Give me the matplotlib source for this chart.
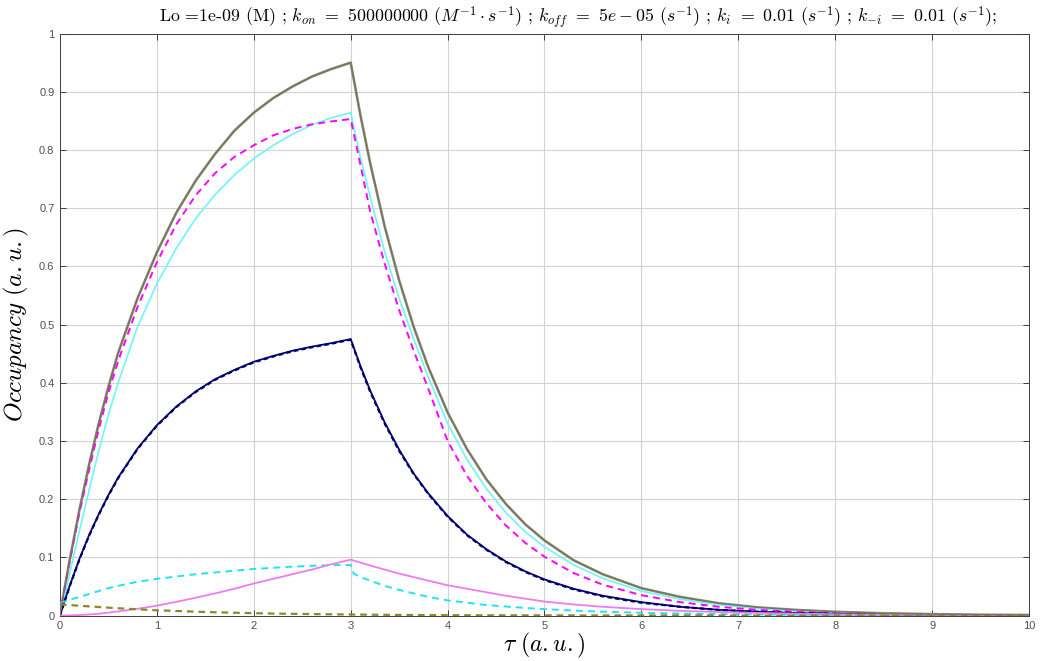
import numpy as np
import matplotlib
matplotlib.use("Agg")
import matplotlib.pyplot as plt
from matplotlib.ticker import FuncFormatter

# ── data ──────────────────────────────────────────────────
T_RISE = [0, 0.05, 0.1, 0.2, 0.3, 0.4, 0.5, 0.6, 0.8, 1.0, 1.2, 1.4, 1.6, 1.8, 2.0,
          2.2, 2.4, 2.6, 2.8, 3.0]
T_DECAY = [3.1, 3.2, 3.35, 3.5, 3.65, 3.8, 4.0, 4.2, 4.4, 4.6, 4.8, 5.0,
           5.3, 5.6, 6.0, 6.4, 6.8, 7.2, 7.6, 8, 8.5, 9, 9.5, 10]
T = T_RISE + T_DECAY

total = [0, 0.049, 0.095, 0.181, 0.259, 0.330, 0.393, 0.451, 0.545, 0.624, 0.692, 0.747, 0.793, 0.833, 0.864,
         0.889, 0.909, 0.926, 0.939, 0.950,
         0.860, 0.778, 0.669, 0.576, 0.496, 0.427, 0.349, 0.286, 0.234, 0.192, 0.157, 0.129,
         0.095, 0.071, 0.047, 0.032, 0.021, 0.014, 0.0096, 0.0064, 0.0039, 0.0024, 0.0014, 0.0009]

cyan_solid = [0, 0.035, 0.072, 0.145, 0.215, 0.283, 0.345, 0.40, 0.496, 0.570, 0.631, 0.682, 0.723, 0.757, 0.785,
              0.808, 0.827, 0.843, 0.855, 0.864,
              0.788, 0.72, 0.625, 0.545, 0.475, 0.41, 0.33, 0.268, 0.218, 0.177, 0.144, 0.118,
              0.087, 0.064, 0.042, 0.028, 0.0185, 0.0122, 0.008, 0.0055, 0.0033, 0.002, 0.0012, 0.0007]

magenta_dash = [0, 0.048, 0.093, 0.176, 0.25, 0.32, 0.383, 0.437, 0.53, 0.607, 0.672, 0.722, 0.76, 0.788, 0.808,
                0.825, 0.836, 0.844, 0.849, 0.853,
                0.775, 0.695, 0.605, 0.525, 0.455, 0.39, 0.30, 0.24, 0.193, 0.155, 0.125, 0.101,
                0.073, 0.053, 0.035, 0.023, 0.015, 0.0097, 0.0063, 0.004, 0.0025, 0.0015, 0.0009, 0.0005]

navy_solid = [0, 0.026, 0.051, 0.097, 0.138, 0.174, 0.207, 0.237, 0.287, 0.327, 0.359, 0.385, 0.406, 0.422, 0.436,
              0.446, 0.455, 0.462, 0.468, 0.475,
              0.429, 0.387, 0.332, 0.285, 0.244, 0.210, 0.171, 0.139, 0.114, 0.093, 0.076, 0.062,
              0.046, 0.034, 0.023, 0.015, 0.0098, 0.0065, 0.0043, 0.0029, 0.0017, 0.001, 0.0006, 0.0004]

navy_dash = [0, 0.025, 0.050, 0.096, 0.137, 0.173, 0.206, 0.236, 0.286, 0.326, 0.358, 0.384, 0.405, 0.421, 0.435,
             0.445, 0.454, 0.461, 0.467, 0.474,
             0.427, 0.385, 0.330, 0.283, 0.243, 0.209, 0.170, 0.138, 0.113, 0.092, 0.075, 0.061,
             0.045, 0.033, 0.022, 0.015, 0.0096, 0.0064, 0.0042, 0.0028, 0.0017, 0.001, 0.0006, 0.0004]

pink_solid = [0, 0, 0.0002, 0.0008, 0.0018, 0.003, 0.005, 0.007, 0.0115, 0.017, 0.0235, 0.0305, 0.038, 0.046, 0.055,
              0.063, 0.071, 0.079, 0.088, 0.096,
              0.091, 0.086, 0.079, 0.072, 0.066, 0.060, 0.052, 0.046, 0.040, 0.034, 0.029, 0.024,
              0.019, 0.015, 0.011, 0.008, 0.006, 0.0045, 0.0033, 0.0022, 0.0015, 0.001, 0.0006, 0.0004]

olive_dash = [0.019, 0.0185, 0.018, 0.0168, 0.0157, 0.0146, 0.0135, 0.0125, 0.0107, 0.009, 0.0078, 0.0066, 0.0056,
              0.0048, 0.004, 0.0034, 0.0029, 0.0025, 0.0021, 0.0018,
              0.0016, 0.0014, 0.0012, 0.001, 0.0009, 0.0008, 0.0006, 0.0005, 0.0004, 0.0003, 0.0003, 0.0002,
              0.0002, 0.0001, 0.0001, 0.0001, 0, 0, 0, 0, 0, 0, 0, 0]

# cyan dashed drops sharply right after the pulse ends
T_CD = T_RISE + [3.03] + T_DECAY
cyan_dash = [0.022, 0.024, 0.027, 0.032, 0.037, 0.042, 0.047, 0.051, 0.058, 0.063, 0.067, 0.071, 0.074, 0.077, 0.080,
             0.082, 0.084, 0.0855, 0.0865, 0.087,
             0.072,
             0.066, 0.06, 0.051, 0.044, 0.038, 0.032, 0.026, 0.022, 0.018, 0.0155, 0.013, 0.011,
             0.0085, 0.0066, 0.0047, 0.0034, 0.0024, 0.0017, 0.0012, 0.0008, 0.0005, 0.0003, 0.0002, 0.0001]

X_TICKS = list(range(0, 11))
Y_TICKS = [0, 0.1, 0.2, 0.3, 0.4, 0.5, 0.6, 0.7, 0.8, 0.9, 1]

TITLE = (r"Lo =1e-09 (M) ; $k_{on}$ $=$ 500000000 $(M^{-1}\cdot s^{-1})$ ; "
         r"$k_{off}$ $=$ $5e-05$ $(s^{-1})$ ; $k_i$ $=$ $\mathbf{0.01}$ $(s^{-1})$ ; "
         r"$k_{-i}$ $=$ $\mathbf{0.01}$ $(s^{-1})$;")
# ──────────────────────────────────────────────────────────

plt.rcParams['mathtext.fontset'] = 'cm'
plt.rcParams['axes.formatter.use_mathtext'] = True

fig = plt.figure(figsize=(10.43, 6.61), dpi=100)
ax = fig.add_axes([0.0575, 0.0688, 0.9291, 0.8805])

ax.plot(T, total, color='#8f8f8f', lw=1.9, zorder=3)
ax.plot(T, total, color='#77774f', lw=1.0, zorder=4)
ax.plot(T, cyan_solid, color='#6ff5f5', lw=1.2, zorder=3)
ax.plot(T, magenta_dash, color='#ff00ff', lw=1.4, dashes=(3.6, 2.6), zorder=3)
ax.plot(T, navy_solid, color='#000080', lw=1.3, zorder=3)
ax.plot(T, navy_dash, color='#000060', lw=1.6, dashes=(2.0, 1.5), zorder=3)
ax.plot(T_CD, cyan_dash, color='#22e4ee', lw=1.4, dashes=(3.6, 2.6), zorder=3)
ax.plot(T, pink_solid, color='#f07af0', lw=1.3, zorder=3)
ax.plot(T, olive_dash, color='#8a8a2a', lw=1.6, dashes=(3.0, 2.2), zorder=3)

ax.set_xlim(0, 10)
ax.set_ylim(0, 1)
ax.set_xticks(X_TICKS)
ax.set_yticks(Y_TICKS)
fmt = FuncFormatter(lambda v, p: f"{v:g}")
ax.xaxis.set_major_formatter(fmt)
ax.yaxis.set_major_formatter(fmt)
ax.tick_params(direction='in', length=4, width=0.6, top=True, right=True,
               labelsize=8, colors='#262626', labelcolor='#505050', pad=4)
for lbl in ax.get_xticklabels() + ax.get_yticklabels():
    lbl.set_family('Liberation Sans')
ax.grid(True, color='#d2d2d2', lw=0.8)
ax.set_axisbelow(True)
for s in ax.spines.values():
    s.set_color('#404040')
    s.set_linewidth(0.7)

ax.set_title(TITLE, fontsize=12.8, family='cmr10', pad=8, x=0.535)
ax.set_xlabel(r"$\tau\ (a.u.)$", fontsize=17, labelpad=0)
ax.set_ylabel(r"$Occupancy\ (a.u.)$", fontsize=18, labelpad=6)

fig.savefig("out.png", dpi=100)
